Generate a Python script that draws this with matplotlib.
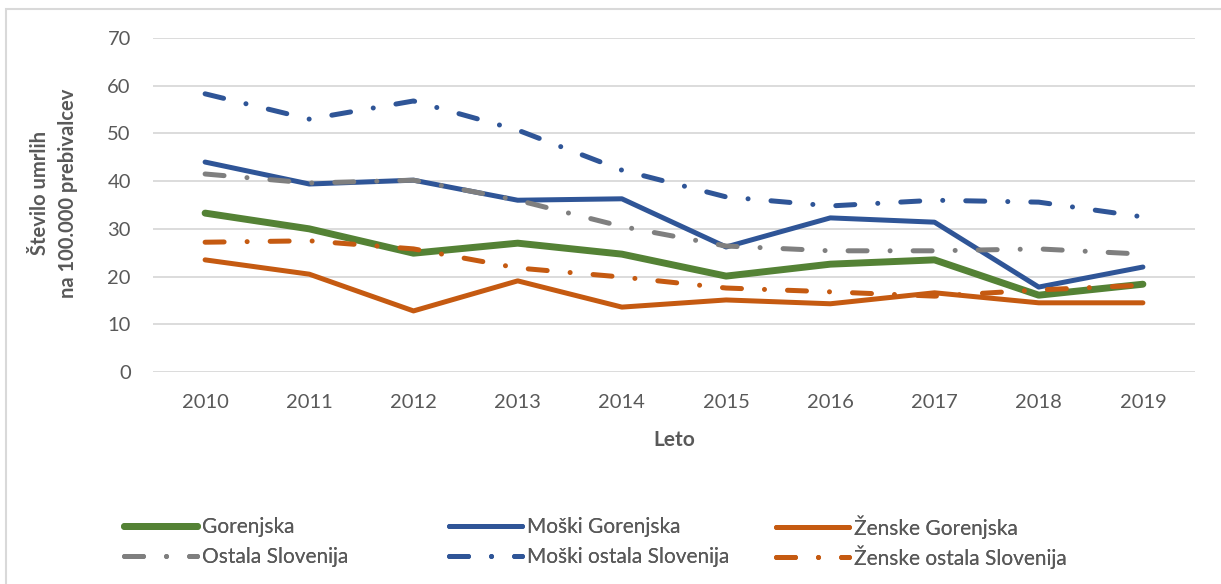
import matplotlib.pyplot as plt
from matplotlib.patches import Rectangle

plt.rcParams['font.family'] = ['Lato', 'DejaVu Sans']

years = [2010, 2011, 2012, 2013, 2014, 2015, 2016, 2017, 2018, 2019]
gorenjska = [33.3, 30.0, 24.9, 27.0, 24.7, 20.1, 22.6, 23.5, 16.1, 18.4]
moski_gor = [44.0, 39.4, 40.2, 36.0, 36.3, 26.2, 32.3, 31.4, 17.8, 22.0]
zenske_gor = [23.5, 20.5, 12.8, 19.1, 13.6, 15.1, 14.3, 16.6, 14.5, 14.5]
ostala = [41.5, 39.6, 40.2, 36.0, 30.5, 26.4, 25.4, 25.4, 25.8, 24.7]
moski_ost = [58.3, 53.0, 56.8, 50.7, 42.3, 36.7, 34.8, 36.0, 35.6, 32.5]
zenske_ost = [27.2, 27.5, 25.8, 21.8, 19.9, 17.6, 16.8, 15.9, 17.2, 18.2]

green = '#548235'
blue = '#2f5597'
orange = '#c55a11'
gray = '#7f7f7f'
txt = '#595959'

W, H = 1221, 584
fig = plt.figure(figsize=(W / 100, H / 100), dpi=100)
ax = fig.add_axes([153 / W, 1 - 372 / H, (1195 - 153) / W, (372 - 38) / H])

x = list(range(len(years)))
dd = (3.8, 4.6, 0.01, 4.6)
lw = 3.6

l1, = ax.plot(x, gorenjska, color=green, lw=5, solid_capstyle='round')
l2, = ax.plot(x, moski_gor, color=blue, lw=lw, solid_capstyle='round')
l3, = ax.plot(x, zenske_gor, color=orange, lw=lw, solid_capstyle='round')
l4, = ax.plot(x, ostala, color=gray, lw=lw, dashes=dd, dash_capstyle='round')
l5, = ax.plot(x, moski_ost, color=blue, lw=lw, dashes=dd, dash_capstyle='round')
l6, = ax.plot(x, zenske_ost, color=orange, lw=lw, dashes=dd, dash_capstyle='round')

ax.set_xlim(-0.5, len(years) - 0.5)
ax.set_ylim(0, 70)
ax.set_yticks(range(0, 71, 10))
ax.set_xticks(x)
ax.set_xticklabels([str(y) for y in years])
ax.grid(axis='y', color='#d9d9d9', lw=1.3)
ax.set_axisbelow(True)
for s in ax.spines.values():
    s.set_visible(False)
ax.tick_params(length=0, labelsize=14.5, colors=txt)
ax.tick_params(axis='y', pad=16)
ax.tick_params(axis='x', pad=16)

ax.set_xlabel('Leto', fontsize=15, fontweight='bold', color=txt)
ax.xaxis.set_label_coords(0.5, -(430 - 372) / 334)
ax.set_ylabel('Število umrlih\nna 100.000 prebivalcev', fontsize=14.5, fontweight='bold',
              color=txt, linespacing=1.5)
ax.yaxis.set_label_coords((78 - 153) / 1042, (372 - 193) / 334)

# legend entries laid out row by row, three columns
entries = [(l1, 'Gorenjska', 124, 527), (l2, 'Moški Gorenjska', 449, 527),
           (l3, 'Ženske Gorenjska', 776, 527), (l4, 'Ostala Slovenija', 124, 557),
           (l5, 'Moški ostala Slovenija', 449, 557), (l6, 'Ženske ostala Slovenija', 776, 557)]
for h, lab, x0, y0 in entries:
    leg = fig.legend([h], [lab], loc='center left', bbox_to_anchor=(x0 / W, 1 - y0 / H),
                     frameon=False, fontsize=15, labelcolor=txt, handlelength=3.5,
                     handletextpad=0.25, borderpad=0, borderaxespad=0)
    fig.add_artist(leg)

fig.add_artist(Rectangle((6 / W, -0.05), 1.2, 1 - 9 / H + 0.05,
                         transform=fig.transFigure, fill=False, edgecolor='#d9d9d9', lw=1.5))

fig.savefig('out.png', dpi=100)
